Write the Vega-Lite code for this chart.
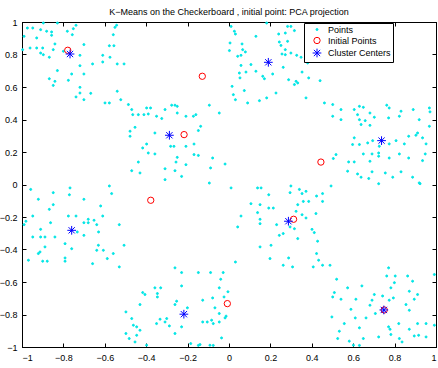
{
  "$schema": "https://vega.github.io/schema/vega-lite/v6.json",
  "autosize": {"type": "none"},
  "padding": {"left": 22, "top": 22, "right": 2, "bottom": 21},
  "width": 414,
  "height": 325,
  "background": "white",
  "title": {
    "text": "K−Means on the Checkerboard , initial point: PCA projection",
    "font": "Liberation Sans",
    "fontSize": 9,
    "fontWeight": "normal",
    "color": "black",
    "anchor": "middle",
    "offset": 1
  },
  "data": {
    "values": [
      {"x":-0.897,"y":0.994,"series":"Points"},{"x":-0.829,"y":0.994,"series":"Points"},{"x":-0.974,"y":0.963,"series":"Points"},{"x":-0.948,"y":0.963,"series":"Points"},{"x":-0.91,"y":0.953,"series":"Points"},{"x":-0.881,"y":0.943,"series":"Points"},{"x":-0.857,"y":0.939,"series":"Points"},{"x":-0.857,"y":0.918,"series":"Points"},{"x":-0.781,"y":0.943,"series":"Points"},{"x":-0.752,"y":0.959,"series":"Points"},{"x":-0.739,"y":0.98,"series":"Points"},{"x":-0.757,"y":0.922,"series":"Points"},{"x":-0.929,"y":0.902,"series":"Points"},{"x":-0.99,"y":0.912,"series":"Points"},{"x":-0.543,"y":0.98,"series":"Points"},{"x":-0.551,"y":0.967,"series":"Points"},{"x":-0.559,"y":0.922,"series":"Points"},{"x":-0.578,"y":0.854,"series":"Points"},{"x":-0.556,"y":0.854,"series":"Points"},{"x":-0.997,"y":0.83,"series":"Points"},{"x":-0.961,"y":0.84,"series":"Points"},{"x":-0.929,"y":0.84,"series":"Points"},{"x":-0.9,"y":0.84,"series":"Points"},{"x":-0.91,"y":0.809,"series":"Points"},{"x":-0.897,"y":0.799,"series":"Points"},{"x":-0.868,"y":0.783,"series":"Points"},{"x":-0.849,"y":0.83,"series":"Points"},{"x":-0.841,"y":0.865,"series":"Points"},{"x":-0.701,"y":0.861,"series":"Points"},{"x":-0.8,"y":0.82,"series":"Points"},{"x":-0.72,"y":0.795,"series":"Points"},{"x":-0.61,"y":0.795,"series":"Points"},{"x":-0.61,"y":0.754,"series":"Points"},{"x":-0.659,"y":0.742,"series":"Points"},{"x":-0.72,"y":0.731,"series":"Points"},{"x":-0.575,"y":0.783,"series":"Points"},{"x":-0.54,"y":0.742,"series":"Points"},{"x":-0.507,"y":0.742,"series":"Points"},{"x":-0.829,"y":0.701,"series":"Points"},{"x":-0.76,"y":0.68,"series":"Points"},{"x":-0.701,"y":0.68,"series":"Points"},{"x":-0.868,"y":0.651,"series":"Points"},{"x":-0.841,"y":0.635,"series":"Points"},{"x":-0.849,"y":0.61,"series":"Points"},{"x":-0.776,"y":0.641,"series":"Points"},{"x":-0.72,"y":0.598,"series":"Points"},{"x":-0.72,"y":0.563,"series":"Points"},{"x":-0.668,"y":0.561,"series":"Points"},{"x":-0.739,"y":0.539,"series":"Points"},{"x":-0.701,"y":0.522,"series":"Points"},{"x":-0.54,"y":0.574,"series":"Points"},{"x":-0.523,"y":0.522,"series":"Points"},{"x":-0.599,"y":0.502,"series":"Points"},{"x":-0.578,"y":0.502,"series":"Points"},{"x":-0.486,"y":0.492,"series":"Points"},

      {"x":-0.398,"y":0.471,"series":"Points"},{"x":-0.379,"y":0.471,"series":"Points"},{"x":-0.309,"y":0.461,"series":"Points"},{"x":-0.277,"y":0.488,"series":"Points"},{"x":-0.261,"y":0.488,"series":"Points"},{"x":-0.25,"y":0.481,"series":"Points"},{"x":-0.095,"y":0.488,"series":"Points"},{"x":-0.047,"y":0.44,"series":"Points"},{"x":-0.47,"y":0.461,"series":"Points"},{"x":-0.465,"y":0.43,"series":"Points"},{"x":-0.438,"y":0.43,"series":"Points"},{"x":-0.411,"y":0.43,"series":"Points"},{"x":-0.39,"y":0.434,"series":"Points"},{"x":-0.35,"y":0.42,"series":"Points"},{"x":-0.325,"y":0.406,"series":"Points"},{"x":-0.25,"y":0.44,"series":"Points"},{"x":-0.208,"y":0.42,"series":"Points"},{"x":-0.172,"y":0.42,"series":"Points"},{"x":-0.16,"y":0.43,"series":"Points"},{"x":-0.137,"y":0.358,"series":"Points"},{"x":-0.148,"y":0.332,"series":"Points"},{"x":-0.454,"y":0.352,"series":"Points"},{"x":-0.478,"y":0.328,"series":"Points"},{"x":-0.478,"y":0.297,"series":"Points"},{"x":-0.358,"y":0.317,"series":"Points"},{"x":-0.282,"y":0.235,"series":"Points"},{"x":-0.266,"y":0.235,"series":"Points"},{"x":-0.398,"y":0.249,"series":"Points"},{"x":-0.417,"y":0.225,"series":"Points"},{"x":-0.39,"y":0.194,"series":"Points"},{"x":-0.358,"y":0.188,"series":"Points"},{"x":-0.25,"y":0.167,"series":"Points"},{"x":-0.208,"y":0.235,"series":"Points"},{"x":-0.169,"y":0.249,"series":"Points"},{"x":-0.169,"y":0.184,"series":"Points"},{"x":-0.148,"y":0.179,"series":"Points"},{"x":-0.079,"y":0.163,"series":"Points"},{"x":-0.019,"y":0.126,"series":"Points"},{"x":-0.438,"y":0.138,"series":"Points"},{"x":-0.256,"y":0.138,"series":"Points"},{"x":-0.208,"y":0.122,"series":"Points"},{"x":-0.47,"y":0.085,"series":"Points"},{"x":-0.43,"y":0.071,"series":"Points"},{"x":-0.309,"y":0.097,"series":"Points"},{"x":-0.261,"y":0.085,"series":"Points"},{"x":-0.089,"y":0.102,"series":"Points"},{"x":-0.229,"y":0.05,"series":"Points"},{"x":-0.309,"y":0.03,"series":"Points"},{"x":-0.095,"y":0.009,"series":"Points"},

      {"x":0.01,"y":0.973,"series":"Points"},{"x":0.026,"y":0.943,"series":"Points"},{"x":0.031,"y":0.926,"series":"Points"},{"x":0.005,"y":0.871,"series":"Points"},{"x":0.063,"y":0.865,"series":"Points"},{"x":0.066,"y":0.83,"series":"Points"},{"x":0.079,"y":0.816,"series":"Points"},{"x":0.058,"y":0.795,"series":"Points"},{"x":0.042,"y":0.789,"series":"Points"},{"x":0.002,"y":0.824,"series":"Points"},{"x":0.058,"y":0.733,"series":"Points"},{"x":0.05,"y":0.686,"series":"Points"},{"x":0.053,"y":0.656,"series":"Points"},{"x":0.082,"y":0.692,"series":"Points"},{"x":0.106,"y":0.738,"series":"Points"},{"x":0.13,"y":0.697,"series":"Points"},{"x":0.163,"y":0.666,"series":"Points"},{"x":0.171,"y":0.651,"series":"Points"},{"x":0.13,"y":0.912,"series":"Points"},{"x":0.182,"y":0.994,"series":"Points"},{"x":0.24,"y":0.926,"series":"Points"},{"x":0.272,"y":0.932,"series":"Points"},{"x":0.283,"y":0.973,"series":"Points"},{"x":0.299,"y":0.973,"series":"Points"},{"x":0.316,"y":0.947,"series":"Points"},{"x":0.251,"y":0.856,"series":"Points"},{"x":0.243,"y":0.877,"series":"Points"},{"x":0.283,"y":0.881,"series":"Points"},{"x":0.272,"y":0.83,"series":"Points"},{"x":0.272,"y":0.799,"series":"Points"},{"x":0.256,"y":0.803,"series":"Points"},{"x":0.299,"y":0.809,"series":"Points"},{"x":0.327,"y":0.795,"series":"Points"},{"x":0.348,"y":0.783,"series":"Points"},{"x":0.353,"y":0.692,"series":"Points"},{"x":0.385,"y":0.656,"series":"Points"},{"x":0.324,"y":0.635,"series":"Points"},{"x":0.316,"y":0.615,"series":"Points"},{"x":0.332,"y":0.625,"series":"Points"},{"x":0.288,"y":0.645,"series":"Points"},{"x":0.262,"y":0.721,"series":"Points"},{"x":0.211,"y":0.68,"series":"Points"},{"x":0.227,"y":0.563,"series":"Points"},{"x":0.182,"y":0.533,"series":"Points"},{"x":0.147,"y":0.516,"series":"Points"},{"x":0.09,"y":0.502,"series":"Points"},{"x":0.074,"y":0.578,"series":"Points"},{"x":0.021,"y":0.553,"series":"Points"},{"x":0.031,"y":0.522,"series":"Points"},{"x":0.015,"y":0.604,"series":"Points"},{"x":0.372,"y":0.533,"series":"Points"},{"x":0.38,"y":0.748,"series":"Points"},{"x":0.44,"y":0.639,"series":"Points"},{"x":0.461,"y":0.502,"series":"Points"},

      {"x":0.501,"y":0.492,"series":"Points"},{"x":0.501,"y":0.42,"series":"Points"},{"x":0.541,"y":0.461,"series":"Points"},{"x":0.541,"y":0.399,"series":"Points"},{"x":0.63,"y":0.481,"series":"Points"},{"x":0.649,"y":0.475,"series":"Points"},{"x":0.605,"y":0.461,"series":"Points"},{"x":0.621,"y":0.43,"series":"Points"},{"x":0.63,"y":0.399,"series":"Points"},{"x":0.658,"y":0.393,"series":"Points"},{"x":0.681,"y":0.44,"series":"Points"},{"x":0.702,"y":0.414,"series":"Points"},{"x":0.681,"y":0.364,"series":"Points"},{"x":0.638,"y":0.369,"series":"Points"},{"x":0.762,"y":0.488,"series":"Points"},{"x":0.774,"y":0.471,"series":"Points"},{"x":0.771,"y":0.41,"series":"Points"},{"x":0.823,"y":0.42,"series":"Points"},{"x":0.831,"y":0.451,"series":"Points"},{"x":0.89,"y":0.461,"series":"Points"},{"x":0.968,"y":0.471,"series":"Points"},{"x":0.971,"y":0.447,"series":"Points"},{"x":0.968,"y":0.358,"series":"Points"},{"x":0.919,"y":0.399,"series":"Points"},{"x":0.911,"y":0.317,"series":"Points"},{"x":0.935,"y":0.287,"series":"Points"},{"x":0.952,"y":0.25,"series":"Points"},{"x":0.903,"y":0.303,"series":"Points"},{"x":0.868,"y":0.297,"series":"Points"},{"x":0.847,"y":0.25,"series":"Points"},{"x":0.807,"y":0.27,"series":"Points"},{"x":0.774,"y":0.25,"series":"Points"},{"x":0.726,"y":0.235,"series":"Points"},{"x":0.723,"y":0.194,"series":"Points"},{"x":0.723,"y":0.174,"series":"Points"},{"x":0.694,"y":0.27,"series":"Points"},{"x":0.67,"y":0.256,"series":"Points"},{"x":0.649,"y":0.188,"series":"Points"},{"x":0.63,"y":0.246,"series":"Points"},{"x":0.605,"y":0.287,"series":"Points"},{"x":0.597,"y":0.246,"series":"Points"},{"x":0.578,"y":0.139,"series":"Points"},{"x":0.605,"y":0.139,"series":"Points"},{"x":0.691,"y":0.188,"series":"Points"},{"x":0.681,"y":0.143,"series":"Points"},{"x":0.774,"y":0.163,"series":"Points"},{"x":0.823,"y":0.188,"series":"Points"},{"x":0.868,"y":0.163,"series":"Points"},{"x":0.935,"y":0.147,"series":"Points"},{"x":0.948,"y":0.188,"series":"Points"},{"x":0.573,"y":0.082,"series":"Points"},{"x":0.621,"y":0.065,"series":"Points"},{"x":0.638,"y":0.045,"series":"Points"},{"x":0.691,"y":0.078,"series":"Points"},{"x":0.755,"y":0.071,"series":"Points"},{"x":0.791,"y":0.045,"series":"Points"},{"x":0.831,"y":0.078,"series":"Points"},{"x":0.887,"y":0.045,"series":"Points"},{"x":0.919,"y":0.01,"series":"Points"},{"x":0.675,"y":0.037,"series":"Points"},{"x":0.517,"y":0.184,"series":"Points"},{"x":0.504,"y":0.16,"series":"Points"},

      {"x":-0.958,"y":-0.03,"series":"Points"},{"x":-0.768,"y":-0.021,"series":"Points"},{"x":-0.771,"y":-0.063,"series":"Points"},{"x":-0.849,"y":-0.05,"series":"Points"},{"x":-0.578,"y":-0.009,"series":"Points"},{"x":-0.567,"y":-0.056,"series":"Points"},{"x":-0.701,"y":-0.091,"series":"Points"},{"x":-0.921,"y":-0.091,"series":"Points"},{"x":-0.849,"y":-0.124,"series":"Points"},{"x":-0.868,"y":-0.153,"series":"Points"},{"x":-0.62,"y":-0.132,"series":"Points"},{"x":-0.948,"y":-0.194,"series":"Points"},{"x":-0.981,"y":-0.226,"series":"Points"},{"x":-0.99,"y":-0.247,"series":"Points"},{"x":-0.776,"y":-0.194,"series":"Points"},{"x":-0.739,"y":-0.194,"series":"Points"},{"x":-0.701,"y":-0.235,"series":"Points"},{"x":-0.68,"y":-0.214,"series":"Points"},{"x":-0.68,"y":-0.235,"series":"Points"},{"x":-0.652,"y":-0.22,"series":"Points"},{"x":-0.639,"y":-0.247,"series":"Points"},{"x":-0.61,"y":-0.194,"series":"Points"},{"x":-0.53,"y":-0.247,"series":"Points"},{"x":-0.91,"y":-0.276,"series":"Points"},{"x":-0.948,"y":-0.323,"series":"Points"},{"x":-0.91,"y":-0.323,"series":"Points"},{"x":-0.889,"y":-0.323,"series":"Points"},{"x":-0.841,"y":-0.323,"series":"Points"},{"x":-0.733,"y":-0.292,"series":"Points"},{"x":-0.701,"y":-0.313,"series":"Points"},{"x":-0.63,"y":-0.292,"series":"Points"},{"x":-0.889,"y":-0.384,"series":"Points"},{"x":-0.913,"y":-0.415,"series":"Points"},{"x":-0.921,"y":-0.425,"series":"Points"},{"x":-0.792,"y":-0.364,"series":"Points"},{"x":-0.76,"y":-0.395,"series":"Points"},{"x":-0.631,"y":-0.374,"series":"Points"},{"x":-0.639,"y":-0.405,"series":"Points"},{"x":-0.607,"y":-0.405,"series":"Points"},{"x":-0.559,"y":-0.425,"series":"Points"},{"x":-0.507,"y":-0.374,"series":"Points"},{"x":-0.969,"y":-0.466,"series":"Points"},{"x":-0.9,"y":-0.472,"series":"Points"},{"x":-0.878,"y":-0.472,"series":"Points"},{"x":-0.792,"y":-0.452,"series":"Points"},{"x":-0.792,"y":-0.472,"series":"Points"},{"x":-0.588,"y":-0.456,"series":"Points"},{"x":-0.659,"y":-0.487,"series":"Points"},{"x":-0.53,"y":-0.507,"series":"Points"},{"x":-0.862,"y":-0.235,"series":"Points"},

      {"x":-0.261,"y":-0.513,"series":"Points"},{"x":-0.229,"y":-0.542,"series":"Points"},{"x":-0.148,"y":-0.542,"series":"Points"},{"x":-0.089,"y":-0.542,"series":"Points"},{"x":-0.028,"y":-0.542,"series":"Points"},{"x":-0.04,"y":-0.583,"series":"Points"},{"x":-0.229,"y":-0.624,"series":"Points"},{"x":-0.047,"y":-0.636,"series":"Points"},{"x":-0.417,"y":-0.665,"series":"Points"},{"x":-0.406,"y":-0.677,"series":"Points"},{"x":-0.358,"y":-0.636,"series":"Points"},{"x":-0.33,"y":-0.636,"series":"Points"},{"x":-0.346,"y":-0.671,"series":"Points"},{"x":-0.346,"y":-0.692,"series":"Points"},{"x":-0.43,"y":-0.739,"series":"Points"},{"x":-0.253,"y":-0.718,"series":"Points"},{"x":-0.261,"y":-0.739,"series":"Points"},{"x":-0.127,"y":-0.712,"series":"Points"},{"x":-0.079,"y":-0.698,"series":"Points"},{"x":-0.024,"y":-0.692,"series":"Points"},{"x":-0.068,"y":-0.759,"series":"Points"},{"x":-0.047,"y":-0.794,"series":"Points"},{"x":-0.019,"y":-0.821,"series":"Points"},{"x":-0.498,"y":-0.784,"series":"Points"},{"x":-0.47,"y":-0.825,"series":"Points"},{"x":-0.462,"y":-0.866,"series":"Points"},{"x":-0.446,"y":-0.876,"series":"Points"},{"x":-0.43,"y":-0.897,"series":"Points"},{"x":-0.498,"y":-0.917,"series":"Points"},{"x":-0.482,"y":-0.948,"series":"Points"},{"x":-0.446,"y":-0.928,"series":"Points"},{"x":-0.454,"y":-0.969,"series":"Points"},{"x":-0.398,"y":-0.989,"series":"Points"},{"x":-0.35,"y":-0.856,"series":"Points"},{"x":-0.333,"y":-0.829,"series":"Points"},{"x":-0.309,"y":-0.846,"series":"Points"},{"x":-0.301,"y":-0.825,"series":"Points"},{"x":-0.288,"y":-0.87,"series":"Points"},{"x":-0.261,"y":-0.917,"series":"Points"},{"x":-0.229,"y":-0.876,"series":"Points"},{"x":-0.201,"y":-0.759,"series":"Points"},{"x":-0.127,"y":-0.846,"series":"Points"},{"x":-0.105,"y":-0.846,"series":"Points"},{"x":-0.084,"y":-0.835,"series":"Points"},{"x":-0.076,"y":-0.856,"series":"Points"},{"x":-0.047,"y":-0.846,"series":"Points"},{"x":-0.036,"y":-0.944,"series":"Points"},{"x":-0.185,"y":-0.979,"series":"Points"},{"x":-0.148,"y":-0.99,"series":"Points"},{"x":-0.14,"y":-0.985,"series":"Points"},{"x":-0.092,"y":-0.989,"series":"Points"},{"x":-0.076,"y":-0.99,"series":"Points"},{"x":-0.005,"y":-0.66,"series":"Points"},{"x":-0.014,"y":-0.81,"series":"Points"},

      {"x":0.01,"y":-0.021,"series":"Points"},{"x":0.138,"y":-0.021,"series":"Points"},{"x":0.155,"y":-0.021,"series":"Points"},{"x":0.299,"y":-0.009,"series":"Points"},{"x":0.295,"y":-0.05,"series":"Points"},{"x":0.34,"y":-0.03,"series":"Points"},{"x":0.372,"y":-0.042,"series":"Points"},{"x":0.353,"y":-0.056,"series":"Points"},{"x":0.493,"y":-0.009,"series":"Points"},{"x":0.423,"y":-0.071,"series":"Points"},{"x":0.452,"y":-0.056,"series":"Points"},{"x":0.452,"y":-0.104,"series":"Points"},{"x":0.385,"y":-0.104,"series":"Points"},{"x":0.359,"y":-0.104,"series":"Points"},{"x":0.332,"y":-0.124,"series":"Points"},{"x":0.192,"y":-0.063,"series":"Points"},{"x":0.106,"y":-0.118,"series":"Points"},{"x":0.15,"y":-0.124,"series":"Points"},{"x":0.192,"y":-0.145,"series":"Points"},{"x":0.214,"y":-0.145,"series":"Points"},{"x":0.058,"y":-0.194,"series":"Points"},{"x":0.138,"y":-0.173,"series":"Points"},{"x":0.15,"y":-0.214,"series":"Points"},{"x":0.15,"y":-0.241,"series":"Points"},{"x":0.042,"y":-0.261,"series":"Points"},{"x":0.23,"y":-0.247,"series":"Points"},{"x":0.243,"y":-0.313,"series":"Points"},{"x":0.262,"y":-0.302,"series":"Points"},{"x":0.295,"y":-0.261,"series":"Points"},{"x":0.316,"y":-0.272,"series":"Points"},{"x":0.324,"y":-0.165,"series":"Points"},{"x":0.353,"y":-0.186,"series":"Points"},{"x":0.372,"y":-0.206,"series":"Points"},{"x":0.42,"y":-0.179,"series":"Points"},{"x":0.401,"y":-0.276,"series":"Points"},{"x":0.412,"y":-0.296,"series":"Points"},{"x":0.332,"y":-0.333,"series":"Points"},{"x":0.428,"y":-0.349,"series":"Points"},{"x":0.15,"y":-0.384,"series":"Points"},{"x":0.203,"y":-0.374,"series":"Points"},{"x":0.423,"y":-0.425,"series":"Points"},{"x":0.433,"y":-0.466,"series":"Points"},{"x":0.452,"y":-0.497,"series":"Points"},{"x":0.407,"y":-0.507,"series":"Points"},{"x":0.288,"y":-0.452,"series":"Points"},{"x":0.262,"y":-0.497,"series":"Points"},{"x":0.307,"y":-0.507,"series":"Points"},{"x":0.198,"y":-0.456,"series":"Points"},{"x":0.031,"y":-0.477,"series":"Points"},{"x":0.488,"y":-0.497,"series":"Points"},{"x":0.723,"y":0.005,"series":"Points"},{"x":0.923,"y":0.005,"series":"Points"},

      {"x":0.771,"y":-0.513,"series":"Points"},{"x":0.762,"y":-0.563,"series":"Points"},{"x":0.803,"y":-0.563,"series":"Points"},{"x":0.863,"y":-0.563,"series":"Points"},{"x":0.887,"y":-0.595,"series":"Points"},{"x":0.992,"y":-0.554,"series":"Points"},{"x":0.52,"y":-0.583,"series":"Points"},{"x":0.509,"y":-0.665,"series":"Points"},{"x":0.501,"y":-0.692,"series":"Points"},{"x":0.541,"y":-0.706,"series":"Points"},{"x":0.573,"y":-0.636,"series":"Points"},{"x":0.642,"y":-0.624,"series":"Points"},{"x":0.613,"y":-0.706,"series":"Points"},{"x":0.702,"y":-0.677,"series":"Points"},{"x":0.742,"y":-0.686,"series":"Points"},{"x":0.782,"y":-0.636,"series":"Points"},{"x":0.799,"y":-0.604,"series":"Points"},{"x":0.774,"y":-0.712,"series":"Points"},{"x":0.794,"y":-0.698,"series":"Points"},{"x":0.691,"y":-0.712,"series":"Points"},{"x":0.681,"y":-0.743,"series":"Points"},{"x":0.871,"y":-0.657,"series":"Points"},{"x":0.911,"y":-0.677,"series":"Points"},{"x":0.895,"y":-0.706,"series":"Points"},{"x":0.855,"y":-0.739,"series":"Points"},{"x":0.871,"y":-0.774,"series":"Points"},{"x":0.589,"y":-0.768,"series":"Points"},{"x":0.497,"y":-0.815,"series":"Points"},{"x":0.557,"y":-0.856,"series":"Points"},{"x":0.63,"y":-0.882,"series":"Points"},{"x":0.61,"y":-0.821,"series":"Points"},{"x":0.662,"y":-0.821,"series":"Points"},{"x":0.707,"y":-0.794,"series":"Points"},{"x":0.771,"y":-0.876,"series":"Points"},{"x":0.778,"y":-0.891,"series":"Points"},{"x":0.82,"y":-0.856,"series":"Points"},{"x":0.871,"y":-0.891,"series":"Points"},{"x":0.911,"y":-0.856,"series":"Points"},{"x":0.952,"y":-0.856,"series":"Points"},{"x":0.992,"y":-0.866,"series":"Points"},{"x":0.525,"y":-0.948,"series":"Points"},{"x":0.533,"y":-0.903,"series":"Points"},{"x":0.581,"y":-0.964,"series":"Points"},{"x":0.601,"y":-0.989,"series":"Points"},{"x":0.63,"y":-0.99,"series":"Points"},{"x":0.649,"y":-0.948,"series":"Points"},{"x":0.723,"y":-0.938,"series":"Points"},{"x":0.782,"y":-0.923,"series":"Points"},{"x":0.823,"y":-0.948,"series":"Points"},{"x":0.836,"y":-0.969,"series":"Points"},{"x":0.895,"y":-0.932,"series":"Points"},{"x":0.916,"y":-0.928,"series":"Points"},{"x":0.952,"y":-0.938,"series":"Points"},

      {"x":-0.779,"y":0.826,"series":"Initial Points"},{"x":-0.129,"y":0.666,"series":"Initial Points"},{"x":-0.217,"y":0.307,"series":"Initial Points"},{"x":0.444,"y":0.138,"series":"Initial Points"},{"x":-0.378,"y":-0.097,"series":"Initial Points"},{"x":0.312,"y":-0.214,"series":"Initial Points"},{"x":-0.008,"y":-0.733,"series":"Initial Points"},{"x":0.75,"y":-0.772,"series":"Initial Points"},

      {"x":-0.768,"y":0.803,"series":"Cluster Centers"},{"x":0.19,"y":0.752,"series":"Cluster Centers"},{"x":-0.288,"y":0.303,"series":"Cluster Centers"},{"x":0.737,"y":0.27,"series":"Cluster Centers"},{"x":-0.76,"y":-0.282,"series":"Cluster Centers"},{"x":0.287,"y":-0.226,"series":"Cluster Centers"},{"x":-0.218,"y":-0.798,"series":"Cluster Centers"},{"x":0.748,"y":-0.772,"series":"Cluster Centers"}
    ]
  },
  "layer": [
    {
      "mark": {"type": "point", "filled": true, "strokeWidth": 1, "opacity": 1},
      "encoding": {
        "x": {
          "field": "x", "type": "quantitative",
          "scale": {"domain": [-1, 1], "nice": false, "zero": false},
          "axis": {"orient": "bottom", "values": [-1,-0.8,-0.6,-0.4,-0.2,0,0.2,0.4,0.6,0.8,1], "format": "~g", "title": null, "labelPadding": 10}
        },
        "y": {
          "field": "y", "type": "quantitative",
          "scale": {"domain": [-1, 1], "nice": false, "zero": false},
          "axis": {"orient": "left", "values": [-1,-0.8,-0.6,-0.4,-0.2,0,0.2,0.4,0.6,0.8,1], "format": "~g", "title": null, "labelPadding": 9}
        },
        "fill": {
          "field": "series", "type": "nominal", "title": null,
          "scale": {"domain": ["Points", "Initial Points", "Cluster Centers"], "range": ["#00e6e6", "transparent", "transparent"]}
        },
        "stroke": {
          "field": "series", "type": "nominal", "title": null,
          "scale": {"domain": ["Points", "Initial Points", "Cluster Centers"], "range": ["#00e6e6", "#ff0000", "#0000ff"]}
        },
        "shape": {
          "field": "series", "type": "nominal", "title": null,
          "scale": {"domain": ["Points", "Initial Points", "Cluster Centers"], "range": ["circle", "circle", "M-1,0H1M0,-1V1M-0.72,-0.72L0.72,0.72M-0.72,0.72L0.72,-0.72"]}
        },
        "size": {
          "field": "series", "type": "nominal", "title": null,
          "scale": {"domain": ["Points", "Initial Points", "Cluster Centers"], "range": [4, 76, 72]}
        }
      }
    },
    {
      "data": {"values": []},
      "mark": {"type": "point"},
      "encoding": {
        "x": {"field": "x", "type": "quantitative", "axis": {"orient": "top", "values": [-1,-0.8,-0.6,-0.4,-0.2,0,0.2,0.4,0.6,0.8,1], "labels": false, "title": null}},
        "y": {"field": "y", "type": "quantitative", "axis": {"orient": "right", "values": [-1,-0.8,-0.6,-0.4,-0.2,0,0.2,0.4,0.6,0.8,1], "labels": false, "title": null}}
      }
    }
  ],
  "resolve": {"axis": {"x": "independent", "y": "independent"}},
  "config": {
    "view": {"stroke": "black", "strokeWidth": 1},
    "axis": {
      "grid": false,
      "domainColor": "black",
      "domainWidth": 1,
      "tickColor": "black",
      "tickWidth": 1,
      "tickSize": -4,
      "labelColor": "black",
      "labelFont": "Liberation Sans",
      "labelFontSize": 9
    },
    "legend": {
      "orient": "none",
      "legendX": 282,
      "legendY": 1,
      "strokeColor": "black",
      "fillColor": "white",
      "padding": 2,
      "symbolOffset": 6,
      "labelOffset": 6,
      "rowPadding": 0,
      "labelFont": "Liberation Sans",
      "labelFontSize": 9,
      "labelColor": "black",
      "symbolStrokeWidth": 1
    }
  }
}
